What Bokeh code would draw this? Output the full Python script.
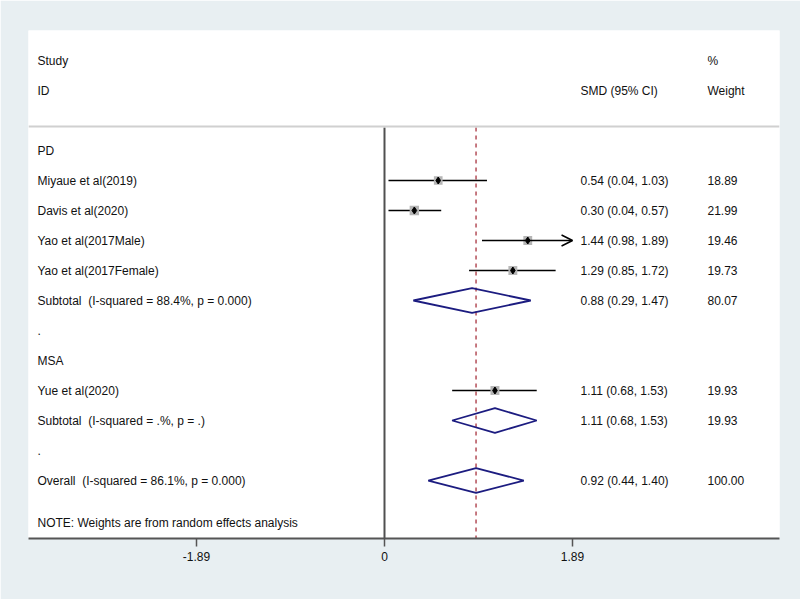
from bokeh.plotting import figure
from bokeh.models import Range1d, FixedTicker, Span, Arrow, OpenHead, ColumnDataSource
from bokeh.core.properties import value
from bokeh.embed import file_html
from bokeh.resources import INLINE

# ---------------- data ----------------
group_names = ["PD", "MSA"]
study_labels = ["Miyaue et al(2019)", "Davis et al(2020)", "Yao et al(2017Male)",
                "Yao et al(2017Female)", "Yue et al(2020)"]
study_group = [0, 0, 0, 0, 1]
study_smd = [0.54, 0.30, 1.44, 1.29, 1.11]
study_lo = [0.04, 0.04, 0.98, 0.85, 0.68]
study_hi = [1.03, 0.57, 1.89, 1.72, 1.53]
study_weight = [18.89, 21.99, 19.46, 19.73, 19.93]
study_arrow = [False, False, True, False, False]

subtotal_labels = ["Subtotal\u00a0 (I-squared = 88.4%, p = 0.000)",
                   "Subtotal\u00a0 (I-squared = .%, p = .)"]
subtotal_smd = [0.88, 1.11]
subtotal_lo = [0.29, 0.68]
subtotal_hi = [1.47, 1.53]
subtotal_weight = [80.07, 19.93]

overall_label = "Overall\u00a0 (I-squared = 86.1%, p = 0.000)"
overall_smd = 0.92
overall_lo = 0.44
overall_hi = 1.40
overall_weight = 100.00

tick_values = [-1.89, 0, 1.89]
tick_labels = ["-1.89", "0", "1.89"]
note_text = "NOTE: Weights are from random effects analysis"

# ---------------- layout of rows ----------------
FONT = value("Liberation Sans")
TXT = "#111111"
BG = "#e8eff2"
NAVY = "#1c1c80"
RED = "#a8323e"

x_left = -3.578
x_right = 3.970
px = 99.5  # pixels per unit
col_label = x_left + 9 / px
col_ci = (580 - 384) / px
col_w = (707 - 384) / px

p = figure(width=800, height=599, output_backend="svg", toolbar_location=None,
           x_range=Range1d(x_left, x_right), y_range=Range1d(15.933, -1),
           min_border_left=28, min_border_right=21, min_border_top=30,
           min_border_bottom=61)
p.background_fill_color = "white"
p.border_fill_color = BG
p.outline_line_color = None
p.xgrid.visible = False
p.ygrid.visible = False
p.yaxis.visible = False

ax = p.xaxis[0]
ax.ticker = FixedTicker(ticks=tick_values)
ax.major_label_overrides = {t: l for t, l in zip(tick_values, tick_labels)}
ax.minor_tick_line_color = None
ax.axis_line_color = "#555555"
ax.axis_line_width = 2
ax.major_tick_line_color = "#555555"
ax.major_tick_line_width = 1.5
ax.major_tick_out = 8
ax.major_tick_in = 0
ax.major_label_text_font = "Liberation Sans"
ax.major_label_text_font_size = "12px"
ax.major_label_text_color = TXT
ax.major_label_standoff = 5

# build rows
lab_x, lab_y, lab_t = [], [], []
ci_x, ci_y, ci_t = [], [], []

def add_label(row, t):
    lab_x.append(col_label); lab_y.append(row); lab_t.append(t)

def add_ci(row, e, l, h, w):
    ci_x.append(col_ci); ci_y.append(row); ci_t.append(f"{e:.2f} ({l:.2f}, {h:.2f})")
    ci_x.append(col_w); ci_y.append(row); ci_t.append(f"{w:.2f}")

# header
add_label(0, "Study")
add_label(1, "ID")
ci_x += [col_w, col_ci, col_w]
ci_y += [0, 1, 1]
ci_t += ["%", "SMD (95% CI)", "Weight"]

study_rows = [None] * len(study_labels)
diam_rows = []
row = 3
for g, gname in enumerate(group_names):
    add_label(row, gname)
    row += 1
    for i, lab in enumerate(study_labels):
        if study_group[i] == g:
            study_rows[i] = row
            add_label(row, lab)
            add_ci(row, study_smd[i], study_lo[i], study_hi[i], study_weight[i])
            row += 1
    add_label(row, subtotal_labels[g])
    add_ci(row, subtotal_smd[g], subtotal_lo[g], subtotal_hi[g], subtotal_weight[g])
    diam_rows.append(row)
    row += 1
    add_label(row, ".")
    row += 1
add_label(row, overall_label)
add_ci(row, overall_smd, overall_lo, overall_hi, overall_weight)
overall_row = row
add_label(15.43, note_text)

# reference lines
top_y = 2.233
bot_y = 15.933
p.add_layout(Span(location=2.2, dimension="width", line_color="#d0d0d0", line_width=2))
p.segment(x0=[0], y0=[top_y], x1=[0], y1=[bot_y], line_color="#505050", line_width=2)
p.segment(x0=[overall_smd], y0=[top_y], x1=[overall_smd], y1=[bot_y],
          line_color=RED, line_width=1.3, line_dash="4 4")

# study CIs
seg_idx = [i for i in range(len(study_labels)) if not study_arrow[i]]
p.segment(x0=[study_lo[i] for i in seg_idx], y0=[study_rows[i] for i in seg_idx],
          x1=[study_hi[i] for i in seg_idx], y1=[study_rows[i] for i in seg_idx],
          line_color="black", line_width=1.5)
arr_idx = [i for i in range(len(study_labels)) if study_arrow[i]]
if arr_idx:
    asrc = ColumnDataSource(dict(x0=[study_lo[i] for i in arr_idx],
                                 y0=[study_rows[i] for i in arr_idx],
                                 x1=[study_hi[i] for i in arr_idx],
                                 y1=[study_rows[i] for i in arr_idx]))
    p.add_layout(Arrow(end=OpenHead(size=11, line_width=1.5, line_color="black"),
                       x_start="x0", y_start="y0", x_end="x1", y_end="y1",
                       source=asrc, line_color="black", line_width=1.5))

# weight boxes and points
p.scatter(x=study_smd, y=study_rows, marker="square",
          size=[2.0 * (w ** 0.5) for w in study_weight],
          fill_color="#b5b5b5", line_color=None)
p.scatter(x=study_smd, y=study_rows, marker="diamond", size=7,
          fill_color="black", line_color="black")

# diamonds
h = 0.41
d_e = subtotal_smd + [overall_smd]
d_l = subtotal_lo + [overall_lo]
d_h = subtotal_hi + [overall_hi]
d_r = diam_rows + [overall_row]
xs = [[l, e, hh, e] for e, l, hh in zip(d_e, d_l, d_h)]
ys = [[r, r - h, r, r + h] for r in d_r]
p.patches(xs=xs, ys=ys, fill_color=None, line_color=NAVY, line_width=1.8)

# texts
p.text(x=lab_x, y=lab_y, text=lab_t, text_font=FONT, text_font_size="12px",
       text_baseline="middle", text_align="left", text_color=TXT)
p.text(x=ci_x, y=ci_y, text=ci_t, text_font=FONT, text_font_size="12px",
       text_baseline="middle", text_align="left", text_color=TXT)

open("out.html", "w").write(file_html(p, INLINE))
